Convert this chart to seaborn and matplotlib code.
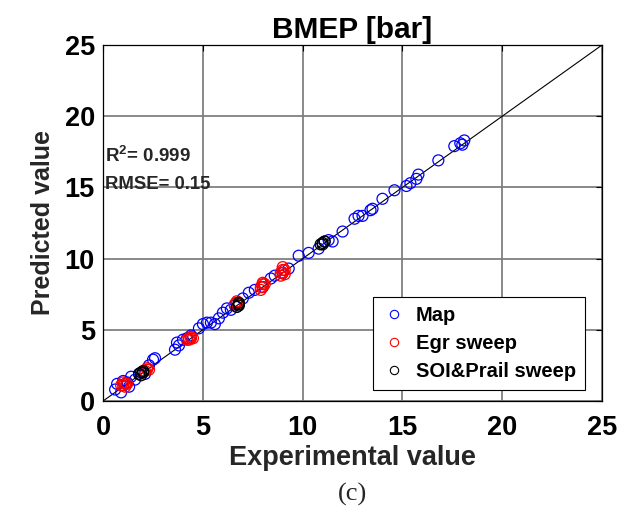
import numpy as np
import pandas as pd
import matplotlib
matplotlib.use("Agg")
import matplotlib.pyplot as plt
import seaborn as sns

# ---- data ----
map_exp = [0.6, 0.7, 1.0, 1.3, 1.4, 1.6, 1.8, 2.1, 2.3, 2.5, 2.6, 3.6, 3.7, 3.8, 4.0, 4.2,
           4.4, 4.8, 5.0, 5.2, 5.4, 5.6, 5.8, 6.0, 6.2, 6.4, 6.6, 7.0, 7.3, 7.6, 8.0, 8.4,
           8.6, 9.0, 9.3, 9.8, 10.3, 10.8, 11.1, 11.3, 11.5, 12.0, 12.6, 12.8, 13.0, 13.4,
           13.5, 14.0, 14.6, 15.2, 15.4, 15.7, 15.8, 16.8, 17.6, 17.9, 18.1, 18.0, 0.9, 1.2]
map_pred = [0.8, 1.2, 1.4, 1.0, 1.7, 1.5, 1.9, 1.9, 2.5, 2.9, 3.0, 3.6, 4.1, 3.9, 4.3, 4.4,
            4.6, 5.1, 5.4, 5.5, 5.5, 5.4, 5.8, 6.2, 6.5, 6.4, 6.7, 7.2, 7.6, 7.8, 8.0, 8.6,
            8.8, 9.0, 9.3, 10.2, 10.4, 10.7, 11.2, 11.3, 11.2, 11.9, 12.8, 13.0, 13.0, 13.4,
            13.5, 14.2, 14.8, 15.1, 15.3, 15.6, 15.9, 16.9, 17.9, 18.1, 18.3, 18.0, 0.6, 1.3]
egr_exp = [0.9, 1.0, 1.0, 1.1, 1.1, 1.2, 2.1, 2.2, 2.2, 2.3, 4.2, 4.3, 4.3, 4.4, 4.4, 4.5,
           6.6, 6.7, 6.7, 7.9, 7.9, 8.0, 8.0, 8.0, 8.1, 8.9, 8.9, 9.0, 9.0, 9.0, 9.1, 9.1]
egr_pred = [1.1, 1.3, 1.1, 1.0, 1.2, 1.2, 2.1, 2.3, 2.2, 2.2, 4.3, 4.4, 4.3, 4.5, 4.4, 4.4,
            6.8, 7.0, 6.9, 7.8, 8.0, 8.0, 8.2, 8.3, 8.2, 8.8, 9.0, 9.0, 9.2, 9.4, 9.2, 8.9]
soi_exp = [1.8, 1.9, 1.9, 2.0, 2.0, 6.7, 6.8, 6.8, 6.8, 10.9, 11.0, 11.0, 11.1]
soi_pred = [1.9, 1.8, 2.0, 2.1, 2.0, 6.6, 6.7, 6.8, 6.9, 11.0, 11.1, 11.0, 11.2]
series_names = ["Map", "Egr sweep", "SOI&Prail sweep"]
series_colors = ["#0000ff", "#ff0000", "#000000"]
ticks = [0, 5, 10, 15, 20, 25]

df = pd.DataFrame({
    "exp": map_exp + egr_exp + soi_exp,
    "pred": map_pred + egr_pred + soi_pred,
    "series": [series_names[0]] * len(map_exp) + [series_names[1]] * len(egr_exp)
              + [series_names[2]] * len(soi_exp),
})

sns.set_style("white")
plt.rcParams["font.family"] = ["Liberation Sans", "DejaVu Sans"]
plt.rcParams["mathtext.fontset"] = "custom"
plt.rcParams["mathtext.bf"] = "Liberation Sans:bold"
plt.rcParams["mathtext.rm"] = "Liberation Sans"

TXT = "#262626"

fig = plt.figure(figsize=(6.29, 5.18), dpi=100)
ax = fig.add_axes([0.164, 0.226, 0.793, 0.687])

ax.plot([0, 25], [0, 25], color="black", lw=0.8, zorder=2)
sns.scatterplot(data=df, x="exp", y="pred", hue="series", hue_order=series_names,
                palette=series_colors, marker="o", s=62, facecolors="none",
                linewidth=0.9, ax=ax, legend=False, zorder=3)
coll = ax.collections[0]
fc = coll.get_facecolors()
coll.set_edgecolors(fc)
coll.set_facecolors("none")

ax.set_xlim(0, 25)
ax.set_ylim(0, 25)
ax.set_xticks(ticks)
ax.set_yticks(ticks)
ax.set_xticklabels([str(t) for t in ticks], fontweight="bold", fontsize=19.5, color=TXT)
ax.set_yticklabels([str(t) for t in ticks], fontweight="bold", fontsize=19.5, color=TXT)
ax.grid(True, color="#808080", lw=1.3)
ax.set_axisbelow(True)
for sp in ax.spines.values():
    sp.set_visible(True)
    sp.set_color("black")
    sp.set_linewidth(0.9)
ax.tick_params(direction="in", length=4, top=True, right=True, width=0.8, colors="black")
ax.tick_params(axis="x", pad=10)
ax.tick_params(axis="y", pad=6)

ax.set_xlabel("Experimental value", fontweight="bold", fontsize=19.5, labelpad=3, color=TXT)
ax.set_ylabel("Predicted value", fontweight="bold", fontsize=18, labelpad=7, color=TXT)
ax.set_title("BMEP [bar]", fontweight="bold", fontsize=21.5, pad=5, color="black")

ax.text(0.1, 17.2, r"R$\mathbf{^2}$= 0.999", fontsize=13.5, fontweight="bold", va="center",
        color=TXT)
ax.text(0.1, 15.2, "RMSE= 0.15", fontsize=13.3, fontweight="bold", va="center", color=TXT)

handles = [plt.Line2D([], [], marker="o", ls="none", markerfacecolor="none",
                      markeredgecolor=c, markersize=6, markeredgewidth=0.8)
           for c in series_colors]
leg = ax.legend(handles, series_names, loc="lower right", bbox_to_anchor=(0.966, 0.03),
                prop={"weight": "bold", "size": 14.5}, frameon=True, fancybox=False,
                edgecolor="black", framealpha=1, handletextpad=0.5, borderpad=0.45,
                labelspacing=0.45, handlelength=1.2, borderaxespad=0)
leg.get_frame().set_linewidth(0.8)
for t in leg.get_texts():
    t.set_color("black")

fig.text(0.56, 0.046, "(c)", ha="center", va="center", fontsize=19,
         family=["Liberation Serif", "DejaVu Serif"])

fig.savefig("out.png", dpi=100, facecolor="white")
